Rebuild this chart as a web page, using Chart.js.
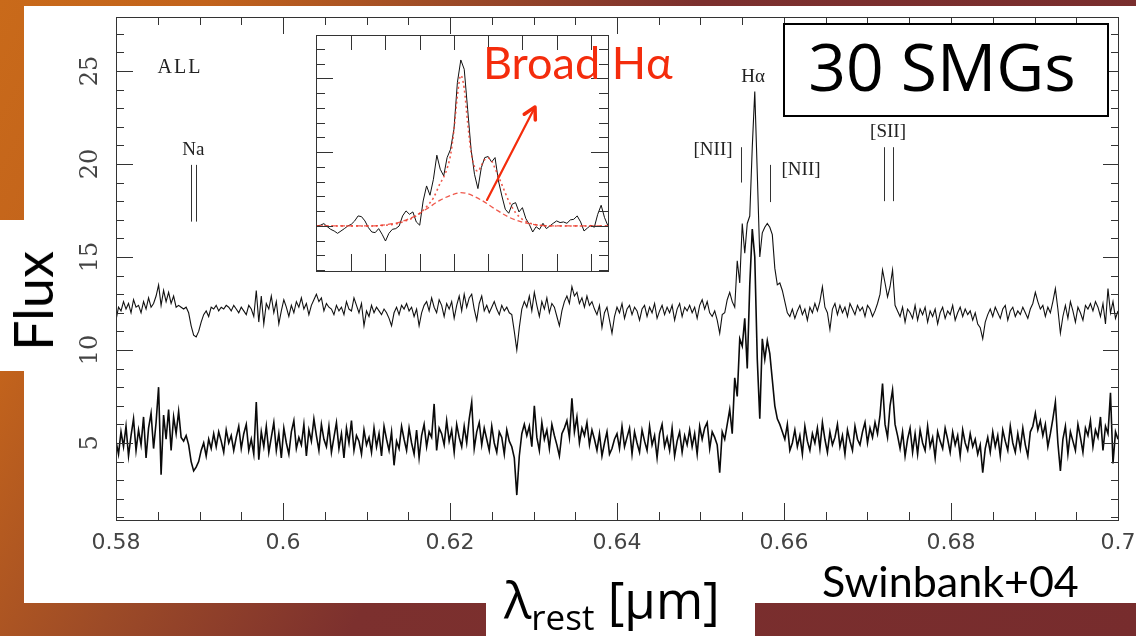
<!DOCTYPE html>
<html>
<head>
<meta charset="utf-8">
<script src="https://cdn.jsdelivr.net/npm/chart.js@4.4.1/dist/chart.umd.min.js"></script>
<style>
  html, body { margin: 0; padding: 0; }
  body {
    width: 1136px; height: 636px; position: relative; overflow: hidden;
    background: linear-gradient(119deg, #c96a1a 0%, #c2631c 14%, #9d4b27 30%, #7c302e 47%, #772c2d 100%);
  }
  #panel { position: absolute; left: 24px; top: 6px; width: 1112px; height: 597px; background: #fff; }
  #fluxPatch { position: absolute; left: 0; top: 220px; width: 24px; height: 151px; background: #fff; }
  #lamPatch { position: absolute; left: 486px; top: 603px; width: 269px; height: 33px; background: #fff; }
  #main { position: absolute; left: 0; top: 0; }
  #inset { position: absolute; left: 315px; top: 34px; background: #fff; }
  .lbl { position: absolute; font-family: Lato, sans-serif; color: #000; white-space: nowrap; line-height: 1; }
  #smgBox {
    position: absolute; left: 783px; top: 23px; width: 326px; height: 94px;
    border: 2px solid #000; background: #fff;
    display: flex; align-items: center; justify-content: center;
    font-family: 'Open Sans', sans-serif; font-size: 66px; line-height: 1; padding-bottom: 10px; padding-right: 8px; box-sizing: border-box;
  }
</style>
</head>
<body>
<div id="panel"></div>
<div id="fluxPatch"></div>
<div id="lamPatch"></div>
<canvas id="main" width="1136" height="636"></canvas>
<canvas id="inset" width="294" height="238"></canvas>

<div class="lbl" style="left:33px; top:301px; font-size:54px; transform:translate(-50%,-50%) rotate(-90deg);">Flux</div>
<div class="lbl" style="left:504px; top:574px; font-size:51px; font-family:'Open Sans', sans-serif;">λ<span style="font-size:35px; position:relative; top:11px;">rest</span> [μm]</div>
<div class="lbl" style="left:822px; top:559px; font-size:43px;">Swinbank+04</div>
<div class="lbl" style="left:483px; top:40px; font-size:45px; color:#f42c0c;">Broad Hα</div>
<div id="smgBox">30 SMGs</div>

<script>
// wavelength grid of the stacked spectra (micron)
const lamStart = 0.58;
const lamStep = 0.0003;

// upper spectrum (flux, offset)
const fluxUpper = [
  11.6, 12.3, 12.1, 12.6, 12.2, 12.5, 12.0, 12.7, 12.3, 12.4,
  12.0, 12.6, 12.2, 12.8, 12.3, 12.5, 12.9, 13.5, 12.4, 13.2,
  12.6, 13.1, 12.5, 12.9, 12.3, 12.4, 12.3, 12.2, 12.3, 12.0,
  11.3, 10.8, 10.7, 11.0, 11.5, 11.9, 12.1, 11.8, 12.3, 12.2,
  12.4, 12.1, 12.3, 12.2, 12.4, 12.3, 12.1, 12.4, 12.2, 12.0,
  12.3, 12.1, 11.9, 12.4, 12.2, 11.8, 13.2, 11.5, 12.9, 11.4,
  12.5, 12.2, 12.9, 12.0, 12.6, 11.4, 12.1, 12.7, 12.3, 11.8,
  12.4, 12.0, 12.6, 12.3, 12.8, 12.2, 12.5, 11.9, 12.4, 12.7,
  13.0, 12.6, 12.8, 12.1, 12.5, 12.3, 12.2, 11.9, 12.4, 12.1,
  12.3, 11.9, 12.6, 12.2, 12.1, 12.8, 12.4, 12.0, 12.5, 11.3,
  12.1, 11.8, 12.4, 12.0, 12.3, 12.1, 11.9, 12.2, 12.0, 11.7,
  11.3, 12.0, 12.3, 11.9, 12.4, 12.2, 12.5, 12.1, 12.3, 11.8,
  12.2, 11.3, 12.0, 12.4, 12.6, 12.1, 12.8, 12.3, 12.0, 12.7,
  12.4, 11.8, 12.5, 12.2, 12.6, 11.7, 12.4, 12.9, 12.1, 13.0,
  12.3, 12.8, 13.0, 12.2, 11.6, 12.5, 12.9, 12.1, 12.4, 12.0,
  12.3, 12.6, 12.2, 11.9, 12.4, 12.1, 12.3, 12.0, 11.9, 11.0,
  10.0, 11.2, 12.2, 12.6, 12.3, 12.9, 12.1, 13.1, 12.4, 11.8,
  12.6, 12.2, 12.8, 12.0, 12.5, 12.3, 11.8, 11.3, 12.1, 12.6,
  12.9, 12.5, 13.4, 12.9, 13.1, 12.5, 12.8, 12.3, 12.9, 12.4,
  12.6, 12.2, 11.9, 12.4, 11.2, 12.0, 12.3, 11.6, 10.9, 11.8,
  12.3, 12.0, 12.5, 11.7, 12.2, 12.4, 11.9, 12.3, 12.1, 11.6,
  12.2, 12.4, 11.8, 12.3, 12.0, 12.5, 11.7, 12.1, 12.4, 11.9,
  12.3, 12.0, 12.4, 11.6, 12.2, 12.5, 11.8, 12.3, 12.1, 12.4,
  12.0, 12.3, 11.7, 12.4, 12.7, 12.2, 12.6, 12.0, 11.8, 12.1,
  11.6, 10.9, 11.9, 12.0, 12.7, 13.1, 12.6, 12.3, 14.8, 13.6,
  16.8, 15.2, 16.8, 17.2, 20.9, 23.9, 19.5, 15.0, 16.3, 16.6,
  16.8, 16.6, 16.2, 14.4, 13.5, 13.6, 13.2, 12.6, 12.0, 11.8,
  12.2, 11.7, 12.1, 12.4, 11.9, 12.2, 11.6, 12.3, 12.0, 12.5,
  12.1, 12.6, 13.4, 12.3, 12.0, 11.1, 12.2, 12.5, 11.9, 12.4,
  12.0, 12.3, 11.8, 12.5, 12.2, 11.9, 12.4, 12.1, 12.3, 11.8,
  12.4, 12.2, 11.8, 12.1, 12.5, 13.0, 14.3, 13.6, 12.85, 13.4,
  14.3, 12.4, 12.1, 11.8, 12.3, 11.5, 12.2, 12.0, 11.7, 12.4,
  11.6, 12.2, 11.9, 12.3, 11.5, 12.1, 11.8, 12.2, 11.4, 12.0,
  12.3, 11.7, 12.1, 11.9, 12.4, 11.6, 12.0, 12.3, 11.8, 12.2,
  11.9, 12.1, 11.6, 12.0, 11.4, 11.2, 10.6, 11.5, 11.9, 12.2,
  11.8, 12.3, 12.0, 11.7, 12.2, 12.4, 11.6, 12.1, 12.3, 11.8,
  12.1, 11.9, 12.3, 12.0, 11.7, 12.2, 12.5, 13.1, 12.6, 12.2,
  12.4, 11.8, 12.3, 12.0, 12.6, 13.3, 12.2, 10.9, 11.8, 12.4,
  11.7, 12.6, 12.1, 11.5, 12.3, 12.0, 11.6, 12.4, 12.2, 12.5,
  12.1, 12.6, 12.3, 11.8, 12.5, 11.4, 13.3, 12.0, 12.6, 11.7,
  12.1
];

// lower spectrum (flux)
const fluxLower = [
  5.1, 4.4, 5.6, 4.8, 5.9, 4.3, 5.4, 6.3, 4.6, 5.7,
  4.9, 6.4, 4.2, 5.8, 6.6, 4.7, 6.1, 8.0, 3.3, 6.5,
  5.2, 6.8, 4.6, 6.4, 5.5, 6.7, 5.3, 5.1, 5.4, 4.9,
  4.0, 3.5, 3.7, 4.0, 4.6, 5.0, 4.3, 5.2, 4.7, 5.5,
  4.8, 5.6, 5.1, 4.5, 5.7, 5.0, 5.4, 4.6, 5.3, 5.9,
  4.7, 5.5, 6.0, 4.6, 5.2, 4.4, 7.2, 4.1, 5.6, 4.8,
  5.9, 4.5, 5.3, 6.1, 4.6, 5.5, 4.2, 5.8, 5.0, 4.4,
  5.6, 6.2, 4.7, 5.3, 4.9, 6.0, 4.3, 5.7, 5.1, 6.3,
  5.4, 4.6, 6.0, 5.2, 4.8, 5.9, 4.5, 5.3, 6.1, 4.7,
  5.5, 4.2, 5.8, 5.0, 6.2, 4.6, 5.4, 5.1, 4.4, 5.7,
  4.9, 5.3, 4.5, 5.8, 4.8, 5.5, 4.3, 5.9, 5.2, 4.6,
  5.6, 3.8, 5.1, 4.7, 5.9, 5.2, 4.6, 5.8, 5.0, 4.4,
  5.7, 4.2, 5.4, 6.0, 4.8, 5.6, 5.3, 7.1, 4.6, 5.8,
  5.5, 4.9, 6.2, 5.1, 5.7, 4.5, 6.0, 5.3, 4.8, 5.9,
  5.0, 6.3, 7.2, 4.7, 5.6, 6.1, 4.9, 5.8, 5.2, 4.6,
  5.9, 5.0, 4.5, 5.6, 5.3, 4.4, 5.7, 5.1, 4.8, 4.2,
  2.2, 4.3, 5.5, 6.0, 5.4, 5.9, 4.8, 7.0, 5.3, 4.6,
  6.1, 5.2, 5.7, 4.7, 6.0, 5.4, 4.9, 4.3, 5.5, 5.8,
  6.2, 5.3, 7.4, 5.6, 6.4, 5.0, 5.8, 5.4, 6.1, 4.9,
  5.7, 5.2, 4.6, 5.5, 4.3, 5.0, 5.6, 4.4, 4.7, 5.2,
  5.5, 4.7, 5.9, 4.8, 5.3, 5.8, 4.4, 5.6, 5.0, 4.5,
  5.7, 5.1, 4.6, 5.9, 4.9, 5.4, 4.2, 5.5, 6.0, 4.8,
  5.3, 4.6, 5.8, 4.3, 5.1, 5.6, 4.5, 5.4, 4.9, 5.7,
  4.8, 5.5, 4.4, 5.9, 5.2, 5.8, 6.1, 4.7, 5.6, 5.3,
  4.9, 3.4, 5.6, 5.2, 6.0, 6.8, 5.5, 8.5, 7.5, 10.6,
  10.2, 11.7, 9.0, 13.5, 16.5, 15.0, 9.5, 6.3, 10.6, 9.5,
  10.5, 9.8, 8.4, 7.0, 6.3, 6.0, 5.6, 5.2, 6.0, 4.6,
  5.0, 5.7, 4.8, 5.4, 4.4, 5.9, 5.1, 4.6, 5.5, 5.0,
  5.8, 4.7, 6.1, 5.2, 4.5, 5.6, 4.9, 5.3, 6.0, 4.8,
  5.4, 4.4, 5.7, 5.1, 4.6, 5.9, 5.2, 4.9, 5.6, 6.1,
  5.0, 5.8, 5.3, 6.1, 5.5, 6.5, 8.2, 6.0, 5.3, 7.0,
  7.85, 6.0, 5.4, 4.7, 5.6, 4.3, 5.2, 5.8, 4.5, 5.5,
  4.4, 5.7, 5.0, 4.6, 5.9, 4.8, 5.3, 4.2, 5.6, 5.1,
  4.7, 5.8, 5.2, 4.5, 5.6, 4.9, 5.4, 4.3, 5.7, 5.0,
  4.6, 5.5, 4.8, 5.2, 4.4, 4.9, 3.4, 4.7, 5.3, 4.5,
  5.6, 4.8, 5.4, 4.3, 5.7, 5.1, 4.6, 5.9, 5.0, 4.5,
  5.5, 4.7, 5.8, 4.9, 4.3, 5.6, 5.9, 6.6, 5.7, 6.2,
  5.4, 6.0, 4.8, 5.5, 6.3, 7.2, 5.0, 3.5, 5.2, 5.9,
  4.4, 5.6, 5.1, 4.6, 6.0, 5.3, 4.5, 5.8, 5.4, 6.2,
  4.8, 5.7, 5.3, 6.4, 4.6, 5.9, 5.5, 7.7, 3.9, 5.6,
  5.2
];

const xTickValues = [0.58, 0.60, 0.62, 0.64, 0.66, 0.68, 0.70];
const xTickLabels = ['0.58', '0.6', '0.62', '0.64', '0.66', '0.68', '0.7'];
const yTickValues = [5, 10, 15, 20, 25];
const yTickLabels = ['5', '10', '15', '20', '25'];

// line identifications: label position and marker lines (wavelength, flux range)
const lineLabels = [
  { text: 'ALL',   lam: 0.58766, f: 25.16 },
  { text: 'Na',    lam: 0.58925, f: 20.75 },
  { text: '[NII]', lam: 0.65150, f: 20.75 },
  { text: 'Hα',    lam: 0.65629, f: 24.68 },
  { text: '[NII]', lam: 0.66204, f: 19.68 },
  { text: '[SII]', lam: 0.67246, f: 21.72 }
];
const lineMarkers = [
  { lam: 0.5890, from: 16.9, to: 19.95 },
  { lam: 0.5896, from: 16.9, to: 19.95 },
  { lam: 0.6548, from: 19.0, to: 20.9 },
  { lam: 0.6583, from: 17.95, to: 19.95 },
  { lam: 0.6720, from: 18.0, to: 20.9 },
  { lam: 0.6730, from: 18.0, to: 20.9 }
];

// inset: H-alpha region, velocity (km/s) vs continuum-subtracted flux
const insetVelStart = -4000;
const insetVelStep = 100;
const insetFlux = [
  0, 0.05, 0.16, -0.05, -0.23, -0.34, -0.5, -0.34, -0.18, 0,
  0.11, 0.34, 0.68, 0.63, 0.34, -0.11, -0.41, -0.45, -0.18, -0.56,
  -1.02, -0.5, -0.23, -0.18, 0, 0.68, 1.02, 0.79, 0.95, 0.27,
  0.05, 1.69, 2.71, 2.08, 3.16, 4.79, 3.84, 3.39, 4.63, 5.19,
  6.55, 9.71, 11.24, 10.61, 7.9, 5.19, 3.5, 2.53, 3.95, 4.63,
  4.7, 4.33, 4.63, 3.05, 2.03, 1.13, 0.86, 1.47, 1.58, 0.95,
  1.24, 0.5, 0.11, -0.41, -0.05, -0.23, 0.18, -0.18, 0, 0.18,
  0.34, 0.23, 0.27, 0.18, 0.41, 0.45, 0.68, 0.27, -0.34, -0.14,
  0.05, -0.09, 0.79, 1.4, 0.56, 0
];
const fitVel = [-4030, -2400, -2000, -1800, -1600, -1400, -1200, -1000, -800, -600,
  -400, -300, -200, -100, 0, 100, 200, 300, 400, 500,
  600, 700, 800, 900, 1000, 1100, 1200, 1400, 1600, 1800,
  2000, 2200, 2400, 2800, 4500];
const fitTotal = [0, 0, 0.05, 0.1, 0.2, 0.35, 0.55, 0.85, 1.3, 1.9,
  2.9, 3.3, 3.9, 4.8, 6.5, 8.8, 10.2, 9.3, 7.0, 5.0,
  4.0, 3.7, 4.1, 4.5, 4.6, 4.4, 3.9, 2.8, 1.7, 0.9,
  0.45, 0.2, 0.08, 0, 0];
const broadVel = [-4030, -2400, -2000, -1600, -1200, -800, -400, 0, 200, 400, 800, 1200, 1600, 2000, 2400, 2800, 4500];
const broadFlux = [0, 0, 0.08, 0.25, 0.6, 1.15, 1.75, 2.15, 2.26, 2.18, 1.75, 1.15, 0.6, 0.25, 0.08, 0, 0];
const arrowFrom = [965, 1.76];
const arrowTo = [2368, 8.06];

const upperPts = fluxUpper.map((f, i) => ({ x: lamStart + i * lamStep, y: f }));
const lowerPts = fluxLower.map((f, i) => ({ x: lamStart + i * lamStep, y: f }));

// frame with inward ticks, rotated y labels and line ids (PGPLOT look)
const mainFrame = {
  id: 'mainFrame',
  afterDraw(chart) {
    const { ctx, chartArea: a, scales: { x, y } } = chart;
    ctx.save();
    ctx.strokeStyle = '#333';
    ctx.lineWidth = 1;
    ctx.strokeRect(a.left + 0.5, a.top + 0.5, a.right - a.left, a.bottom - a.top);
    ctx.beginPath();
    for (let k = 0; k <= 24; k++) {
      const px = Math.round(x.getPixelForValue(x.min + k * 0.005)) + 0.5;
      const len = k % 4 === 0 ? 17 : 8;
      ctx.moveTo(px, a.bottom); ctx.lineTo(px, a.bottom - len);
      ctx.moveTo(px, a.top); ctx.lineTo(px, a.top + len);
    }
    for (let v = 1; v <= 27; v++) {
      const py = Math.round(y.getPixelForValue(v)) + 0.5;
      const major = v % 5 === 0;
      ctx.moveTo(a.left, py); ctx.lineTo(a.left + (major ? 17 : 8), py);
      ctx.moveTo(a.right, py); ctx.lineTo(a.right - (major ? 15 : 7), py);
    }
    // line id markers
    lineMarkers.forEach(m => {
      const px = Math.round(x.getPixelForValue(m.lam)) + 0.5;
      ctx.moveTo(px, y.getPixelForValue(m.from));
      ctx.lineTo(px, y.getPixelForValue(m.to));
    });
    ctx.stroke();

    ctx.fillStyle = '#444';
    ctx.textAlign = 'center';
    ctx.textBaseline = 'middle';
    ctx.font = '22px "DejaVu Sans"';
    xTickValues.forEach((v, i) => ctx.fillText(xTickLabels[i], x.getPixelForValue(v), a.bottom + 23));
    ctx.font = '24px "DejaVu Serif"';
    yTickValues.forEach((v, i) => {
      ctx.save();
      ctx.translate(a.left - 25, y.getPixelForValue(v));
      ctx.rotate(-Math.PI / 2);
      ctx.fillText(yTickLabels[i], 0, 0);
      ctx.restore();
    });
    ctx.fillStyle = '#222';
    lineLabels.forEach(l => {
      ctx.font = l.text === 'ALL' ? '20px "Liberation Serif"' : '19px "Liberation Serif"';
      ctx.letterSpacing = l.text === 'ALL' ? '2px' : '0px';
      ctx.fillText(l.text, x.getPixelForValue(l.lam), y.getPixelForValue(l.f));
    });
    ctx.restore();
  }
};

new Chart(document.getElementById('main'), {
  type: 'line',
  data: {
    datasets: [
      { data: upperPts, borderColor: '#111', borderWidth: 1.1, pointRadius: 0 },
      { data: lowerPts, borderColor: '#0a0a0a', borderWidth: 1.6, pointRadius: 0 }
    ]
  },
  options: {
    responsive: false,
    animation: false,
    layout: { padding: { left: 116, right: 18, top: 17, bottom: 116 } },
    plugins: { legend: { display: false }, tooltip: { enabled: false } },
    scales: {
      x: { type: 'linear', min: 0.58, max: 0.70, display: false },
      y: { type: 'linear', min: 0.86, max: 27.9, display: false }
    }
  },
  plugins: [mainFrame]
});

const insetFrame = {
  id: 'insetFrame',
  afterDraw(chart) {
    const { ctx, chartArea: a, scales: { x, y } } = chart;
    ctx.save();
    ctx.strokeStyle = '#333';
    ctx.lineWidth = 1;
    ctx.strokeRect(a.left + 0.5, a.top + 0.5, a.right - a.left, a.bottom - a.top);
    ctx.beginPath();
    for (let v = -4000; v <= 4500; v += 1000) {
      const px = Math.round(x.getPixelForValue(v)) + 0.5;
      if (px - a.left < 3 || a.right - px < 3) continue;
      ctx.moveTo(px, a.bottom); ctx.lineTo(px, a.bottom - 17);
      ctx.moveTo(px, a.top); ctx.lineTo(px, a.top + 15);
    }
    for (let v = -3; v <= 12; v++) {
      const py = Math.round(y.getPixelForValue(v)) + 0.5;
      const len = v % 5 === 0 ? 17 : 9;
      ctx.moveTo(a.left, py); ctx.lineTo(a.left + len, py);
      ctx.moveTo(a.right, py); ctx.lineTo(a.right - len, py);
    }
    ctx.stroke();

    // arrow pointing from the broad component to the label
    const x0 = x.getPixelForValue(arrowFrom[0]), y0 = y.getPixelForValue(arrowFrom[1]);
    const x1 = x.getPixelForValue(arrowTo[0]), y1 = y.getPixelForValue(arrowTo[1]);
    const ang = Math.atan2(y1 - y0, x1 - x0);
    ctx.strokeStyle = '#f42c0c';
    ctx.lineCap = 'round';
    ctx.lineJoin = 'round';
    ctx.lineWidth = 2.2;
    ctx.beginPath();
    ctx.moveTo(x0, y0); ctx.lineTo(x1, y1);
    ctx.stroke();
    ctx.lineWidth = 3.5;
    ctx.beginPath();
    ctx.moveTo(x1 - 13 * Math.cos(ang - 0.5), y1 - 13 * Math.sin(ang - 0.5));
    ctx.lineTo(x1, y1);
    ctx.lineTo(x1 - 13 * Math.cos(ang + 0.5), y1 - 13 * Math.sin(ang + 0.5));
    ctx.stroke();
    ctx.restore();
  }
};

new Chart(document.getElementById('inset'), {
  type: 'line',
  data: {
    datasets: [
      { data: broadVel.map((v, i) => ({ x: v, y: broadFlux[i] })), borderColor: 'rgba(236,60,45,0.85)',
        borderWidth: 1.3, borderDash: [5, 3], pointRadius: 0, cubicInterpolationMode: 'monotone' },
      { data: fitVel.map((v, i) => ({ x: v, y: fitTotal[i] })), borderColor: 'rgba(236,60,45,0.85)',
        borderWidth: 1.6, borderDash: [2, 3], pointRadius: 0, cubicInterpolationMode: 'monotone' },
      { data: insetFlux.map((f, i) => ({ x: insetVelStart + i * insetVelStep, y: f })), borderColor: '#111',
        borderWidth: 1, pointRadius: 0 }
    ]
  },
  options: {
    responsive: false,
    animation: false,
    layout: { padding: 1 },
    plugins: { legend: { display: false }, tooltip: { enabled: false } },
    scales: {
      x: { type: 'linear', min: -4030, max: 4500, display: false },
      y: { type: 'linear', min: -3.05, max: 12.93, display: false }
    }
  },
  plugins: [insetFrame]
});
</script>
</body>
</html>
